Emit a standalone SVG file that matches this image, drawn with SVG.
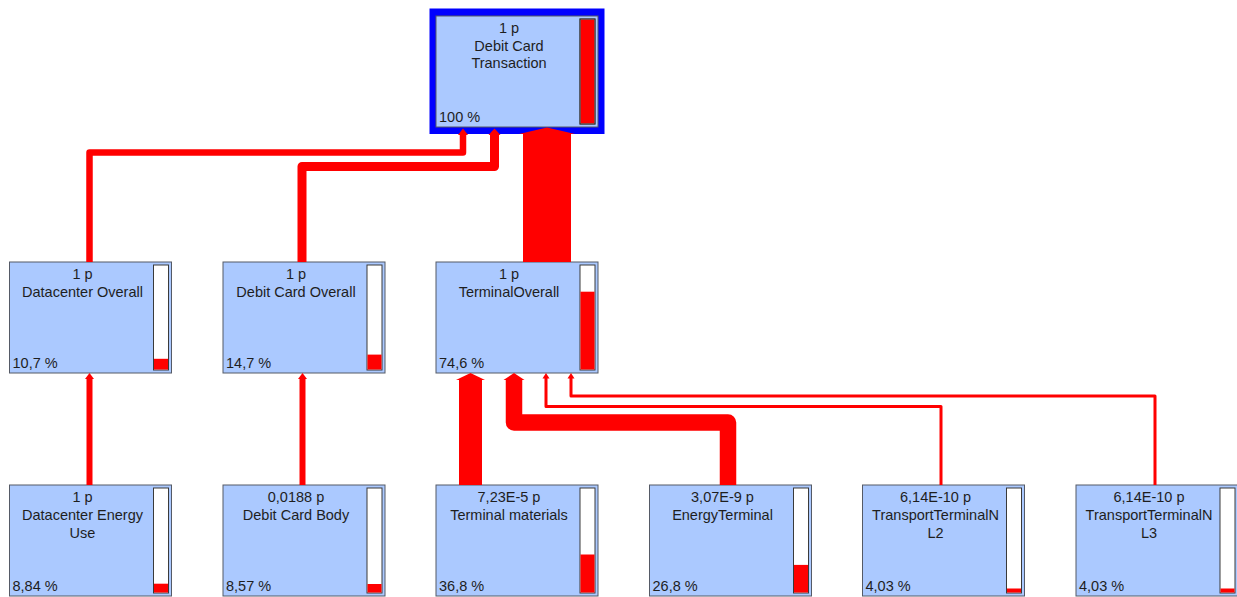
<svg xmlns="http://www.w3.org/2000/svg" width="1237" height="597" viewBox="0 0 1237 597">
<style>
.box{fill:#abc9ff;stroke:#555a66;stroke-width:1}
.bar{fill:#ffffff;stroke:#3a3a3a;stroke-width:1}
.fill{fill:#ff0000}
.t{font-family:"Liberation Sans",Arial,sans-serif;font-size:14.5px;fill:#1e1e1e;text-anchor:middle}
.p{font-family:"Liberation Sans",Arial,sans-serif;font-size:14.5px;fill:#1e1e1e}
.c{fill:none;stroke:#ff0000;stroke-linejoin:round;stroke-linecap:butt}
.ah{fill:#ff0000}
</style>
<rect width="1237" height="597" fill="#ffffff"/>

<g id="node-debit-card-transaction">
<rect x="429.5" y="8.5" width="175" height="125.5" fill="#0000ff"/>
<rect class="box" x="436" y="16" width="162" height="111"/>
<rect class="bar" x="580" y="19" width="15" height="105"/>
<rect class="fill" x="580.5" y="19.5" width="14" height="104"/>
<rect x="580" y="19" width="15" height="105" fill="none" stroke="#3a3a3a" stroke-width="1"/>
<text class="t" x="509" y="33.3">1 p</text>
<text class="t" x="509" y="50.8">Debit Card</text>
<text class="t" x="509" y="68.3">Transaction</text>
<text class="p" x="439" y="121.5">100 %</text>
</g>

<g id="node-datacenter-overall">
<rect class="box" x="9.5" y="262" width="162" height="111"/>
<rect class="bar" x="153.5" y="265" width="15" height="105"/>
<rect class="fill" x="154" y="358.8" width="14" height="10.7"/>
<text class="t" x="82.5" y="279.3">1 p</text>
<text class="t" x="82.5" y="297">Datacenter Overall</text>
<text class="p" x="12.5" y="367.5">10,7 %</text>
</g>

<g id="node-debit-card-overall">
<rect class="box" x="223" y="262" width="162" height="111"/>
<rect class="bar" x="367" y="265" width="15" height="105"/>
<rect class="fill" x="367.5" y="354.6" width="14" height="14.9"/>
<text class="t" x="296" y="279.3">1 p</text>
<text class="t" x="296" y="297">Debit Card Overall</text>
<text class="p" x="226" y="367.5">14,7 %</text>
</g>

<g id="node-terminal-overall">
<rect class="box" x="436" y="262" width="162" height="111"/>
<rect class="bar" x="580" y="265" width="15" height="105"/>
<rect class="fill" x="580.5" y="291.7" width="14" height="77.8"/>
<text class="t" x="509" y="279.3">1 p</text>
<text class="t" x="509" y="297">TerminalOverall</text>
<text class="p" x="439" y="367.5">74,6 %</text>
</g>

<g id="node-datacenter-energy-use">
<rect class="box" x="9.5" y="485" width="162" height="111"/>
<rect class="bar" x="153.5" y="488" width="15" height="105"/>
<rect class="fill" x="154" y="583.7" width="14" height="8.8"/>
<text class="t" x="82.5" y="502.3">1 p</text>
<text class="t" x="82.5" y="520">Datacenter Energy</text>
<text class="t" x="82.5" y="537.5">Use</text>
<text class="p" x="12.5" y="590.5">8,84 %</text>
</g>

<g id="node-debit-card-body">
<rect class="box" x="223" y="485" width="162" height="111"/>
<rect class="bar" x="367" y="488" width="15" height="105"/>
<rect class="fill" x="367.5" y="584" width="14" height="8.5"/>
<text class="t" x="296" y="502.3">0,0188 p</text>
<text class="t" x="296" y="520">Debit Card Body</text>
<text class="p" x="226" y="590.5">8,57 %</text>
</g>

<g id="node-terminal-materials">
<rect class="box" x="436" y="485" width="162" height="111"/>
<rect class="bar" x="580" y="488" width="15" height="105"/>
<rect class="fill" x="580.5" y="554.5" width="14" height="38"/>
<text class="t" x="509" y="502.3">7,23E-5 p</text>
<text class="t" x="509" y="520">Terminal materials</text>
<text class="p" x="439" y="590.5">36,8 %</text>
</g>

<g id="node-energy-terminal">
<rect class="box" x="649.5" y="485" width="162" height="111"/>
<rect class="bar" x="793.5" y="488" width="15" height="105"/>
<rect class="fill" x="794" y="564.9" width="14" height="27.6"/>
<text class="t" x="722.5" y="502.3">3,07E-9 p</text>
<text class="t" x="722.5" y="520">EnergyTerminal</text>
<text class="p" x="652.5" y="590.5">26,8 %</text>
</g>

<g id="node-transport-nl2">
<rect class="box" x="862.5" y="485" width="162" height="111"/>
<rect class="bar" x="1006.5" y="488" width="15" height="105"/>
<rect class="fill" x="1007" y="588.5" width="14" height="4"/>
<text class="t" x="935.5" y="502.3">6,14E-10 p</text>
<text class="t" x="935.5" y="520">TransportTerminalN</text>
<text class="t" x="935.5" y="537.5">L2</text>
<text class="p" x="865.5" y="590.5">4,03 %</text>
</g>

<g id="node-transport-nl3">
<rect class="box" x="1076" y="485" width="162" height="111"/>
<rect class="bar" x="1220" y="488" width="15" height="105"/>
<rect class="fill" x="1220.5" y="588.5" width="14" height="4"/>
<text class="t" x="1149" y="502.3">6,14E-10 p</text>
<text class="t" x="1149" y="520">TransportTerminalN</text>
<text class="t" x="1149" y="537.5">L3</text>
<text class="p" x="1079" y="590.5">4,03 %</text>
</g>

<g id="connectors">
<path class="c" stroke-width="6.5" d="M89.5,262 V152.5 H463 V134"/>
<polygon class="ah" points="458,135 463,128.5 468,135"/>
<path class="c" stroke-width="9" d="M302,262 V166.5 H494.5 V134"/>
<polygon class="ah" points="488.5,135 494.5,128.5 500.5,135"/>
<path class="c" stroke-width="48" d="M547,262 V133"/>
<polygon class="ah" points="519,134 547,127.5 575,134"/>

<path class="c" stroke-width="6" d="M89.5,485 V378"/>
<polygon class="ah" points="85,379 89.5,373 94,379"/>
<path class="c" stroke-width="6" d="M302.5,485 V378"/>
<polygon class="ah" points="298,379 302.5,373 307,379"/>
<path class="c" stroke-width="23" d="M470.5,485 V379"/>
<polygon class="ah" points="456,380 470.5,373 485,380"/>
<path class="c" stroke-width="16.5" d="M728,485 V422.5 H514 V379"/>
<polygon class="ah" points="503.5,380 514,373 524.5,380"/>
<path class="c" stroke-width="3" d="M941,485 V406.5 H546 V377"/>
<polygon class="ah" points="542.5,378.5 546,373 549.5,378.5"/>
<path class="c" stroke-width="3" d="M1155,485 V396 H571 V377"/>
<polygon class="ah" points="567.5,378.5 571,373 574.5,378.5"/>
</g>
</svg>
